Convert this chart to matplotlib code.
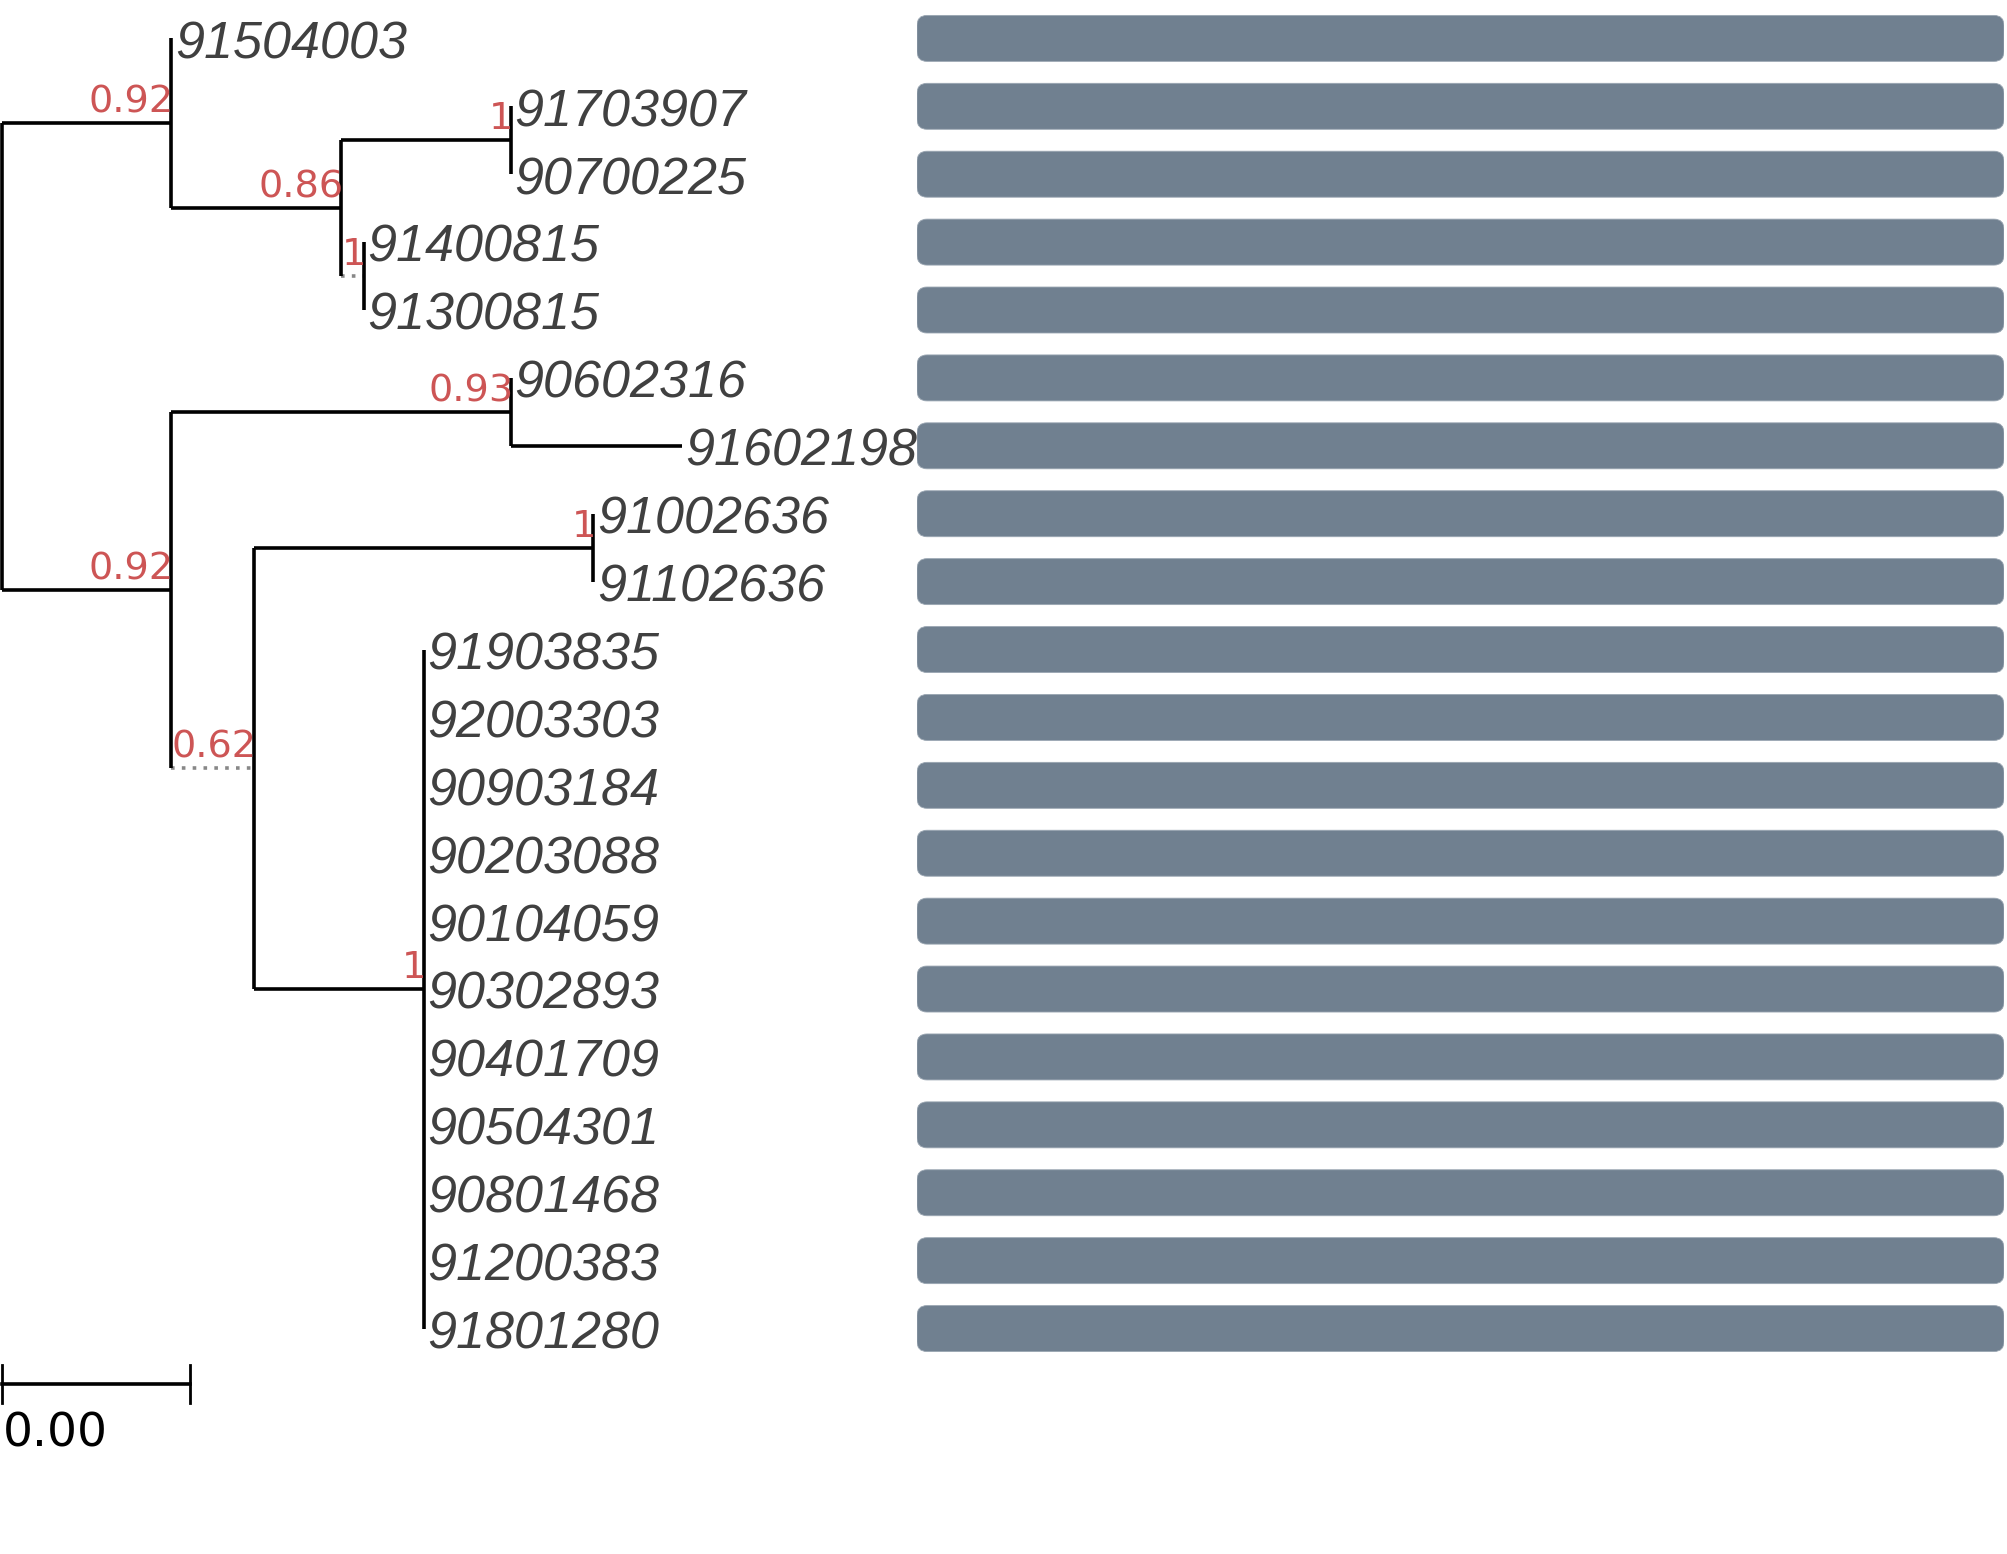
import matplotlib
matplotlib.use("Agg")
import matplotlib.pyplot as plt
from matplotlib.patches import FancyBboxPatch

# tip labels, top to bottom
tip_labels = ["91504003", "91703907", "90700225", "91400815", "91300815",
              "90602316", "91602198", "91002636", "91102636", "91903835",
              "92003303", "90903184", "90203088", "90104059", "90302893",
              "90401709", "90504301", "90801468", "91200383", "91801280"]
tip_parent = ["A", "C", "C", "D", "D", "F", "F", "H", "H", "I",
              "I", "I", "I", "I", "I", "I", "I", "I", "I", "I"]
tip_branch = [0, 0, 0, 0, 0, 0, 0.00091, 0, 0, 0,
              0, 0, 0, 0, 0, 0, 0, 0, 0, 0]

# internal nodes (parents listed before children)
node_names = ["R", "A", "B", "C", "D", "E", "F", "G", "H", "I"]
node_parent = [None, "R", "A", "B", "B", "R", "E", "E", "G", "G"]
node_branch = [0, 0.0009, 0.0009, 0.0009, 0.00012, 0.0009, 0.0018, 0.00044, 0.0018, 0.0009]
node_support = [None, 0.92, 0.86, 1, 1, 0.92, 0.93, 0.62, 1, 1]
dotted_nodes = ["D", "G"]

bar_values = [1, 1, 1, 1, 1, 1, 1, 1, 1, 1,
              1, 1, 1, 1, 1, 1, 1, 1, 1, 1]

scale_width = 0.001

RED = "#CD5555"
TIPCOL = "#404040"
BARCOL = "#708090"
LW = 2.6

# --- layout ---
xpos = {}
for name, par, bl in zip(node_names, node_parent, node_branch):
    xpos[name] = 0.0 if par is None else xpos[par] + bl

children = {n: [] for n in node_names}
for n, par in zip(node_names, node_parent):
    if par is not None:
        children[par].append(n)
ypos = {}
tip_x = []
for i, (lab, par, bl) in enumerate(zip(tip_labels, tip_parent, tip_branch)):
    ypos[lab] = i
    children[par].append(lab)
    tip_x.append(xpos[par] + bl)
    xpos[lab] = xpos[par] + bl

def get_y(n):
    if n in ypos:
        return ypos[n]
    ys = [get_y(c) for c in children[n]]
    ypos[n] = (min(ys) + max(ys)) / 2
    return ypos[n]

get_y("R")

fig = plt.figure(figsize=(20.07, 15.54), dpi=100)
ax = fig.add_axes([0, 0, 1, 1])
ax.set_xlim(-0.0000100, 0.010643)
ax.set_ylim(22.32, -0.5655)
ax.axis("off")

# horizontal branches
for name, par in zip(node_names, node_parent):
    if par is None:
        continue
    if name in dotted_nodes:
        ax.plot([xpos[par], xpos[name]], [ypos[name]] * 2, color="#888888",
                lw=LW, ls=(0, (1, 2)), solid_capstyle="butt")
    else:
        ax.plot([xpos[par], xpos[name]], [ypos[name]] * 2, color="black",
                lw=LW, solid_capstyle="butt")
for lab, par in zip(tip_labels, tip_parent):
    if xpos[lab] > xpos[par]:
        ax.plot([xpos[par], xpos[lab]], [ypos[lab]] * 2, color="black",
                lw=LW, solid_capstyle="butt")

# vertical connectors
for name in node_names:
    ys = [ypos[c] for c in children[name]]
    ax.plot([xpos[name]] * 2, [min(ys), max(ys)], color="black", lw=LW,
            solid_capstyle="butt")

# tip labels
for lab, x in zip(tip_labels, tip_x):
    ax.annotate(lab, (x, ypos[lab]), xytext=(2.5, -14.3), textcoords="offset points",
                ha="left", va="baseline", fontsize=37.5, style="italic",
                family="Liberation Sans", color=TIPCOL)

# support values
for name, sup in zip(node_names, node_support):
    if sup is None:
        continue
    txt = "1" if sup == 1 else f"{sup:.2f}"
    ax.annotate(txt, (xpos[name], ypos[name]), xytext=(2, 7.8),
                textcoords="offset points", ha="right", va="baseline",
                fontsize=27.5, family="DejaVu Sans", color=RED)

# scale bar
sb_y = len(tip_labels) - 1 + 0.81
ax.plot([0, scale_width], [sb_y, sb_y], color="black", lw=LW)
for xx in (0, scale_width):
    ax.plot([xx, xx], [sb_y - 0.28, sb_y + 0.28], color="black", lw=2)
ax.annotate(f"{scale_width:.2f}", (0, sb_y), xytext=(1, -45), textcoords="offset points",
            ha="left", va="baseline", fontsize=34, family="DejaVu Sans", color="black")

# bar panel
axb = fig.add_axes([917 / 2007, 0, (2004 - 917) / 2007, 1])
axb.set_xlim(0, max(bar_values))
axb.set_ylim(22.32, -0.5655)
axb.axis("off")
bh = 0.677
for i, v in enumerate(bar_values):
    p = FancyBboxPatch((0, i - bh / 2), v, bh,
                       boxstyle="round,pad=0,rounding_size=0.0092",
                       mutation_aspect=16.0, facecolor=BARCOL,
                       edgecolor="#9aa6b2", lw=0.6)
    axb.add_patch(p)

fig.savefig("out.png", dpi=100)
